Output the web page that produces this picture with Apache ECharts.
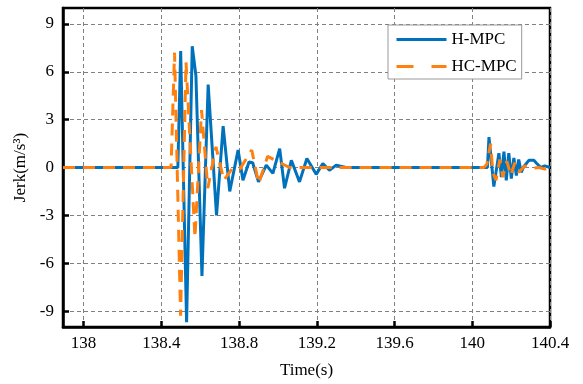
<!DOCTYPE html>
<html>
<head>
<meta charset="utf-8">
<script src="https://cdn.jsdelivr.net/npm/echarts@6/dist/echarts.min.js"></script>
<style>
html,body{margin:0;padding:0;background:#fff;}
#chart{width:583px;height:384px;}
</style>
</head>
<body>
<div id="chart"></div>
<script>
// ---- data ----
var xTicks = [138, 138.4, 138.8, 139.2, 139.6, 140, 140.4];
var yTicks = [-9, -6, -3, 0, 3, 6, 9];
var seriesNames = ['H-MPC', 'HC-MPC'];

var hmpcTime = [137.894, 138.485, 138.4995, 138.530, 138.559, 138.578, 138.609, 138.641, 138.684, 138.718,
  138.752, 138.795, 138.820, 138.851, 138.870, 138.900, 138.940, 138.974, 139.009, 139.034,
  139.069, 139.111, 139.149, 139.197, 139.231, 139.265, 139.300, 139.350, 140.078, 140.086,
  140.111, 140.137, 140.150, 140.163, 140.175, 140.188, 140.201, 140.214, 140.227, 140.239,
  140.252, 140.265, 140.291, 140.317, 140.332, 140.353, 140.373, 140.4];
var hmpcJerk = [0, 0, 7.3, -9.7, 7.6, 5.75, -6.8, 5.2, -3.0, 2.6,
  -1.5, 1.1, -0.8, 0.35, 0.3, -0.9, 0.15, -0.37, 1.18, -1.3,
  0.45, -0.9, 0.56, -0.43, 0.25, -0.17, 0.15, 0, 0, 1.9,
  -1.2, 0.9, -0.6, 1.0, -0.8, 0.9, -0.7, 0.6, -0.5, 0.5,
  -0.3, 0.05, 0.45, 0.45, 0.25, 0, 0.1, 0];

var hcmpcTime = [137.894, 138.450, 138.468, 138.499, 138.527, 138.573, 138.607, 138.639, 138.681, 138.722,
  138.763, 138.804, 138.865, 138.901, 138.947, 139.009, 139.060, 140.060, 140.075, 140.094,
  140.106, 140.122, 140.142, 140.157, 140.178, 140.198, 140.219, 140.239, 140.270, 140.301,
  140.342, 140.373, 140.4];
var hcmpcJerk = [0, 0, 7.2, -9.3, 6.6, -4.4, 3.6, -1.3, 1.3, -0.8,
  -0.1, -0.1, 1.1, -1.0, 0.7, 0.3, 0, 0, 0.2, 1.5,
  -0.3, -0.8, 0.5, -0.6, 0.4, -0.5, 0.3, -0.3, 0.1, -0.05,
  0, -0.1, 0];

function zip(a, b) { return a.map(function (v, i) { return [v, b[i]]; }); }

var FONT = 'Liberation Serif';
var BLUE = '#0072BD', ORANGE = '#FF800E';
var chart = echarts.init(document.getElementById('chart'), null, {renderer: 'canvas'});
var gridLine = {show: true, lineStyle: {color: '#808080', width: 1, type: [4, 3]}};
var noMark = {color: 'transparent', borderColor: 'transparent', borderWidth: 0, opacity: 0};

chart.setOption({
  animation: false,
  backgroundColor: '#fff',
  grid: {left: 63, right: 33, top: 8, bottom: 54, show: true, borderColor: '#000', borderWidth: 2.5, backgroundColor: 'transparent'},
  legend: {
    orient: 'vertical', left: 388, top: 25,
    backgroundColor: '#fff', borderColor: '#999', borderWidth: 1, borderRadius: 0,
    padding: [6, 5, 4, 7], itemWidth: 50, itemHeight: 14, itemGap: 10,
    textStyle: {fontFamily: FONT, fontSize: 17, color: '#000'},
    itemStyle: noMark,
    data: [
      {name: seriesNames[0], itemStyle: noMark, lineStyle: {color: BLUE, width: 3, opacity: 1}},
      {name: seriesNames[1], itemStyle: noMark, lineStyle: {color: ORANGE, width: 3, opacity: 1, type: [17, 18]}}
    ]
  },
  xAxis: {
    type: 'value', min: 137.894, max: 140.4,
    name: 'Time(s)', nameLocation: 'middle', nameGap: 35,
    nameTextStyle: {fontFamily: FONT, fontSize: 17, color: '#000'},
    axisLine: {show: true, onZero: false, lineStyle: {color: '#000', width: 2.5}},
    axisTick: {show: true, inside: true, length: 6, lineStyle: {color: '#000', width: 2.5}, customValues: xTicks},
    axisLabel: {fontFamily: FONT, fontSize: 17, color: '#000', margin: 8, customValues: xTicks,
      formatter: function (v) { return String(+v.toFixed(1)); }},
    splitLine: gridLine
  },
  yAxis: {
    type: 'value', min: -10, max: 10,
    name: 'Jerk(m/s³)', nameLocation: 'middle', nameGap: 30, nameRotate: 90,
    nameTextStyle: {fontFamily: FONT, fontSize: 17, color: '#000'},
    axisLine: {show: true, onZero: false, lineStyle: {color: '#000', width: 2.5}},
    axisTick: {show: true, inside: true, length: 6, lineStyle: {color: '#000', width: 2.5}, customValues: yTicks},
    axisLabel: {fontFamily: FONT, fontSize: 17, color: '#000', margin: 9, customValues: yTicks},
    splitLine: gridLine
  },
  series: [
    {name: seriesNames[0], type: 'line', data: zip(hmpcTime, hmpcJerk), symbol: 'none', showSymbol: false,
      lineStyle: {color: BLUE, width: 3}, itemStyle: {color: BLUE}, z: 2},
    {name: seriesNames[1], type: 'line', data: zip(hcmpcTime, hcmpcJerk), symbol: 'none', showSymbol: false,
      lineStyle: {color: ORANGE, width: 3, type: [12, 8]}, itemStyle: {color: ORANGE}, z: 3}
  ]
});
</script>
</body>
</html>
